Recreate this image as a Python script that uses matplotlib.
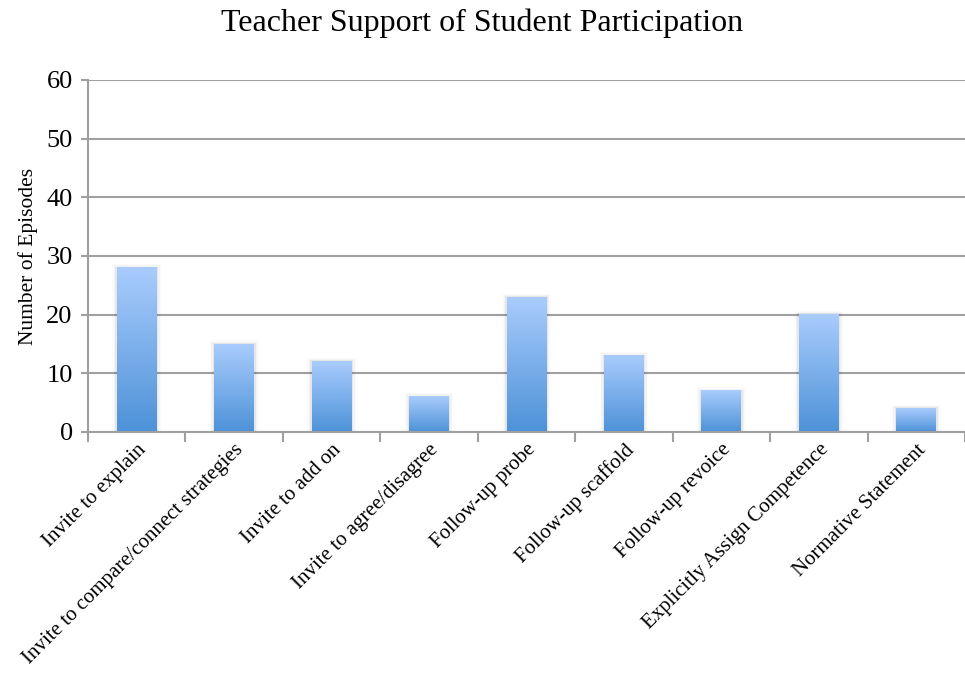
import numpy as np
import matplotlib.pyplot as plt
from matplotlib.colors import LinearSegmentedColormap

plt.rcParams['font.family'] = ['Liberation Serif', 'DejaVu Serif']

categories = ["Invite to explain", "Invite to compare/connect strategies",
              "Invite to add on", "Invite to agree/disagree", "Follow-up probe",
              "Follow-up scaffold", "Follow-up revoice",
              "Explicitly Assign Competence", "Normative Statement"]
episodes = [28, 15, 12, 6, 23, 13, 7, 20, 4]

fig = plt.figure(figsize=(9.65, 6.77), dpi=100)
ax = fig.add_axes([88 / 965, 1 - 432 / 677, (965 - 88) / 965, (432 - 80) / 677])

cmap = LinearSegmentedColormap.from_list("bar", ["#4d92d8", "#a9ccfd"])
grad = np.linspace(0, 1, 256).reshape(-1, 1)
width = 0.41
x = np.arange(len(categories))

for xi, v in zip(x, episodes):
    # soft shadow
    for k, a in enumerate([0.05, 0.03, 0.015]):
        off = 0.015 * (k + 1)
        ax.add_patch(plt.Rectangle((xi - width / 2 - off, 0), width + 2 * off, v + 0.2 * (k + 1),
                                   color="k", alpha=a, lw=0, zorder=2))
    ax.imshow(grad, cmap=cmap, origin="lower", aspect="auto",
              extent=(xi - width / 2, xi + width / 2, 0, v), zorder=3)

ax.set_xlim(-0.5, len(categories) - 0.5)
ax.set_ylim(0, 60)
ax.set_yticks(range(0, 61, 10))
ax.tick_params(axis="y", labelsize=19, length=5, color="#a0a0a0", width=1.5, pad=6)
ax.set_xticks(np.arange(-0.5, len(categories) + 0.5, 1))
ax.set_xticklabels([])
ax.set_xticks(x, minor=True)
ax.set_xticklabels(categories, minor=True, rotation=45, ha="right",
                   rotation_mode="anchor", fontsize=15)
ax.tick_params(axis="x", which="major", length=7, color="#a0a0a0", width=1.5)
ax.tick_params(axis="x", which="minor", length=0, pad=6)
ax.grid(axis="y", color="#a0a0a0", lw=1.5, zorder=0)
ax.set_axisbelow(True)
for s in ["top", "right"]:
    ax.spines[s].set_visible(False)
for s in ["left", "bottom"]:
    ax.spines[s].set_color("#a0a0a0")
    ax.spines[s].set_linewidth(1.5)
ax.spines["bottom"].set_zorder(5)

ax.set_ylabel("Number of Episodes", fontsize=15.5, labelpad=6)
fig.text(0.5, 1 - 23 / 677, "Teacher Support of Student Participation",
         ha="center", va="center", fontsize=23)

plt.savefig("out.png", dpi=100)
